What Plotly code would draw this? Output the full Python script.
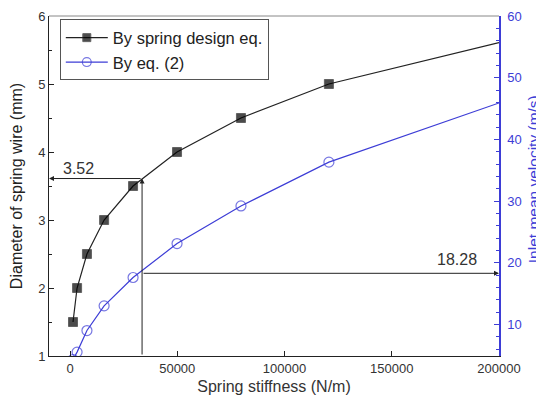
import plotly.graph_objects as go

stiffness = [1400, 3300, 7900, 15900, 29400, 49900, 79700, 120700, 200000]
diameter = [1.5, 2.0, 2.5, 3.0, 3.5, 4.0, 4.5, 5.0, 5.61]
velocity = [4.3, 5.5, 9.0, 13.0, 17.6, 23.1, 29.2, 36.3, 45.9]
marker_shown = [True, True, True, True, True, True, True, True, False]

x_cross = 33600
d_level = 3.61
v_level = 18.28
label_d = "3.52"
label_v = "18.28"
right_title = "Inlet mean velocity (m/s)"

BLUE = "#3d3dd6"
DARK = "#222222"
FONT = "Liberation Sans, Arial, sans-serif"

fig = go.Figure()
fig.add_trace(go.Scatter(
    x=stiffness, y=diameter, mode="lines+markers", name="By spring design eq.",
    line=dict(color=DARK, width=1.2),
    marker=dict(symbol="square", color="black", size=[9 if s else 0 for s in marker_shown]),
))
fig.add_trace(go.Scatter(
    x=stiffness, y=velocity, mode="lines+markers", name="By eq. (2)", yaxis="y2",
    line=dict(color=BLUE, width=1.2),
    marker=dict(symbol="circle-open", color=BLUE, size=[10 if s else 0 for s in marker_shown],
                line=dict(width=1.2)),
))

# guide lines with arrows
fig.add_annotation(x=x_cross, y=d_level, ax=x_cross, ay=1, xref="x", yref="y", axref="x", ayref="y",
                   showarrow=True, arrowhead=2, arrowsize=1, arrowwidth=1, arrowcolor=DARK, text="")
fig.add_annotation(x=-9790, y=d_level, ax=x_cross, ay=d_level, xref="x", yref="y", axref="x", ayref="y",
                   showarrow=True, arrowhead=2, arrowsize=1, arrowwidth=1, arrowcolor=DARK, text="")
fig.add_annotation(x=200000, y=v_level, ax=x_cross, ay=v_level, xref="x", yref="y2", axref="x", ayref="y2",
                   showarrow=True, arrowhead=2, arrowsize=1, arrowwidth=1, arrowcolor=DARK, text="")
fig.add_annotation(x=3800, y=d_level, xref="x", yref="y", text=label_d, showarrow=False,
                   yanchor="bottom", yshift=0, font=dict(size=16, color="#333", family=FONT))
fig.add_annotation(x=190500, y=v_level, xref="x", yref="y2", text=label_v, showarrow=False,
                   xanchor="right", yanchor="bottom", yshift=3, font=dict(size=16, color="#333", family=FONT))
# right axis title
fig.add_annotation(x=1, y=0.52, xref="paper", yref="paper", text=right_title, textangle=-90,
                   showarrow=False, xanchor="center", yanchor="middle", xshift=34,
                   font=dict(size=15.5, color=BLUE, family=FONT))

# page body has an 8px default margin, so the figure is 8px smaller and offset
fig.update_layout(
    width=536, height=391,
    margin=dict(l=41, r=45, t=8, b=43, autoexpand=False),
    paper_bgcolor="white", plot_bgcolor="white",
    font=dict(family=FONT, size=12, color="#333"),
    showlegend=True,
    legend=dict(x=0.024, y=0.99, xanchor="left", yanchor="top", itemwidth=42,
                bordercolor="#555", borderwidth=1, bgcolor="white",
                font=dict(size=16.5, color="#222", family=FONT), tracegroupgap=0),
    xaxis=dict(range=[-9790, 200000], tickvals=[0, 50000, 100000, 150000, 200000],
               ticktext=["0", "50000", "100000", "150000", "200000"], automargin=False,
               ticks="inside", ticklen=5, tickcolor=DARK, showgrid=False, zeroline=False,
               showline=True, linecolor=DARK, linewidth=1, mirror=False,
               title=dict(text="Spring stiffness (N/m)", font=dict(size=16, color="#333"), standoff=6),
               tickfont=dict(size=13, color="#333")),
    yaxis=dict(range=[1, 6], dtick=1, ticks="inside", ticklen=5, tickcolor=DARK, automargin=False,
               minor=dict(dtick=0.5, ticks="inside", ticklen=3, tickcolor=DARK),
               showgrid=False, zeroline=False, showline=True, linecolor=DARK, linewidth=1,
               title=dict(text="Diameter of spring wire (mm)", font=dict(size=16, color="#222"), standoff=12),
               tickfont=dict(size=13, color="#333")),
    yaxis2=dict(range=[4.87, 60], overlaying="y", side="right", tickvals=[10, 20, 30, 40, 50, 60],
                ticks="inside", ticklen=5, tickcolor=BLUE, automargin=False, ticklabelstandoff=4,
                minor=dict(tickvals=[6, 8, 12, 14, 16, 18, 22, 24, 26, 28, 32, 34, 36, 38, 42, 44, 46, 48, 52, 54, 56, 58],
                           ticks="inside", ticklen=3, tickcolor=BLUE),
                showgrid=False, zeroline=False, showline=True, linecolor=BLUE, linewidth=1.5,
                tickfont=dict(size=13, color=BLUE)),
    shapes=[dict(type="line", xref="paper", yref="paper", x0=0, x1=1, y0=1, y1=1,
                 line=dict(color="#888", width=1))],
)

fig.write_html("out.html")
